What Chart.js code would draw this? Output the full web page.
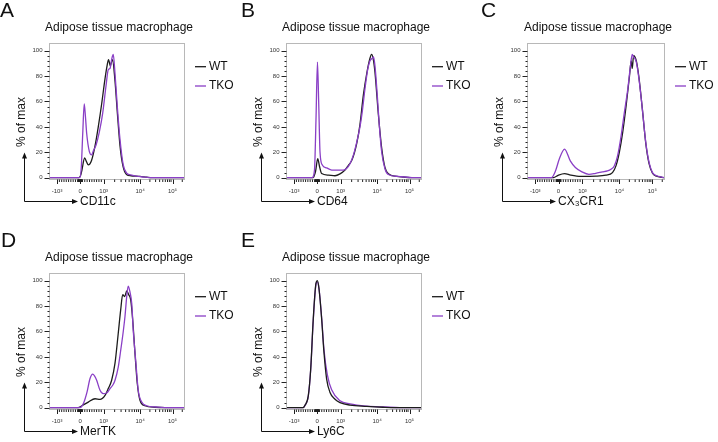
<!DOCTYPE html>
<html>
<head>
<meta charset="utf-8">
<script src="https://cdn.jsdelivr.net/npm/chart.js@4.4.1/dist/chart.umd.min.js"></script>
<style>
  body { margin: 0; background: #fff; }
  #figure { position: relative; width: 718px; height: 442px; overflow: hidden; }
  #figure canvas { position: absolute; }
</style>
</head>
<body>
<div id="figure">
  <canvas id="panelA" width="238" height="230" style="left:0;top:0"></canvas>
  <canvas id="panelB" width="238" height="230" style="left:237px;top:0"></canvas>
  <canvas id="panelC" width="240" height="230" style="left:478px;top:0"></canvas>
  <canvas id="panelD" width="238" height="212" style="left:0;top:230px"></canvas>
  <canvas id="panelE" width="238" height="212" style="left:237px;top:230px"></canvas>
</div>
<script>
const panelLetters = ["A", "B", "C", "D", "E"];
const panelTitle = "Adipose tissue macrophage";
const markers = ["CD11c", "CD64", "CX₃CR1", "MerTK", "Ly6C"];
const seriesNames = ["WT", "TKO"];
const seriesColors = ["#1c1c1c", "#8a3fc6"];
const yTitle = "% of max";
const yTickValues = [0, 20, 40, 60, 80, 100];
// channel positions of the biexponential decade marks
const xTickValues = [6, 23, 40.5, 67.5, 91.5];
const xTickLabels = ["-10³", "0", "10³", "10⁴", "10⁵"];

// [channel, % of max]
const cd11cWT = [[0,0],[22.2,0],[23.5,2],[24.4,6],[26.4,15.5],[27.8,12.5],[29.1,10],[31.5,13.5],[34.1,25],[36.5,40],[39,58],[41.5,78],[43,88],[44.1,93],[45.4,88],[47,93],[48.9,76],[50.7,50],[52.6,25],[54.8,9],[57.4,2.5],[60.7,1.5],[67.4,1],[72.6,0.3],[76.3,0],[100,0]];
const cd11cTKO = [[0,0],[22.9,0],[23.9,8],[25,35],[26.1,58],[27,48],[27.9,35],[29.9,20.5],[31.6,18],[32.8,21],[34.8,25.5],[37.3,36],[39.8,51],[42.2,72],[43.9,85],[45.2,86],[46.4,93],[47.6,97],[48.9,82],[50.6,56],[52.6,30],[55,10],[57.6,3.5],[61.3,2],[66.1,1],[69.6,0.5],[74.8,0],[100,0]];

const cd64WT = [[0,0],[20,0],[21.9,5],[23.5,15],[24.8,9],[26.4,3.2],[31.3,2],[36.3,1.5],[40,3],[43.7,6],[46.1,9.5],[48.9,14],[52.4,27],[54.8,42],[57.3,65],[59.8,82],[62.2,94],[63.4,97],[64.7,93],[65.9,83],[68.4,50],[70.9,23],[73.3,8],[75.8,3],[82,1],[86.7,0.5],[91.9,0],[100,0]];
const cd64TKO = [[0,0],[19.3,0],[21.1,6],[22.2,45],[23.3,91],[24.2,60],[25.2,20],[26.9,10],[30.1,7.7],[33.9,6],[38.7,6],[42.4,6],[45,7.4],[47.4,11],[49.9,17.7],[52.4,28],[54.8,40],[56.5,52],[58.5,70],[60.5,85],[62.2,92],[63.9,94],[64.8,95],[65.9,88],[67.6,65],[69.2,40],[70.9,20],[73.3,7],[75.8,2.5],[83.2,1],[88.1,0.5],[93.3,0],[100,0]];

const cx3cr1WT = [[0,0],[19.3,0],[23,2],[27.4,3.2],[31.9,2],[39.3,1],[50.4,1.2],[57.6,2],[62.4,4],[65,9.5],[67.4,20],[69.9,36],[72.4,57],[74.8,80],[76.1,92],[76.8,86],[77.8,96],[79.8,92],[81.7,79],[84.2,54],[86.7,27],[89.1,11],[91.6,3.5],[94.6,1.2],[98.5,0.3],[100,0]];
const cx3cr1TKO = [[0,0],[17.8,0],[20.7,5],[23.7,15],[27.4,22.5],[31.6,13.2],[35.3,8],[40.2,4.5],[45.2,2.6],[50.1,3.4],[55,4.5],[58.7,5.3],[61.3,6.6],[63.7,9.2],[66.1,17.2],[68.7,33],[71.1,51.6],[73.6,70],[75.3,86],[76.8,97],[77.8,95],[78.7,94],[79.8,91],[81.7,78],[84.2,54],[86.7,27.8],[89.1,12],[91.6,4],[94.6,1.5],[98.3,0.5],[100,0]];

const mertkWT = [[0,0],[21.5,0],[24.4,1.5],[29.1,4.4],[34.1,7],[37.8,6.5],[41.5,9.7],[43.9,15],[46.4,21.6],[48.9,35],[51.3,58.6],[53.1,77],[54.6,89],[56.1,87.5],[57.6,92],[59,89],[60.5,85],[62,69],[63.7,42.7],[65.4,19],[67.4,5.8],[71.1,1.5],[78.5,0.3],[85.9,0],[100,0]];
const mertkTKO = [[0,0],[23,0],[25.4,3],[28.1,12],[30.4,23],[32.4,26.4],[33.7,25],[35.3,21.6],[37.8,13.7],[40.2,11],[42.7,11.5],[45.2,15],[47.4,18],[48.9,21.6],[51.3,32],[53.1,45],[55,60],[56.3,72],[57.6,87.8],[58.7,95.7],[60,91],[61.3,82],[62.4,61],[64.4,35],[66.1,13.7],[68.7,4.4],[72.4,1.5],[79.3,0.5],[85.9,0],[100,0]];

const ly6cWT = [[0,0],[12.6,0],[14.1,2],[16.5,9.2],[18.3,30.5],[20.2,70],[22.2,98],[23.2,100],[24.4,94],[26.4,70],[28.1,43.8],[30.1,22.5],[32.6,12],[36.3,6.6],[40,4],[47.4,2],[59.8,1],[71.9,0.3],[80.7,0],[100,0]];
const ly6cTKO = [[0,0],[12.6,0],[14.1,1.8],[16.5,9],[18.3,30],[20.2,69],[22.2,97],[23.2,99],[24.4,94],[26.4,71],[28.1,46],[30.6,26],[33.8,14],[40,5.5],[47.4,3],[59.8,1.2],[73.3,0.5],[84.4,0],[100,0]];

const panelSeries = [
  [cd11cWT, cd11cTKO],
  [cd64WT, cd64TKO],
  [cx3cr1WT, cx3cr1TKO],
  [mertkWT, mertkTKO],
  [ly6cWT, ly6cTKO]
];
// which series sits on top in each panel
const topSeries = [1, 1, 1, 1, 0];

const FONT = "'Liberation Sans', Arial, sans-serif";

function minorChannels() {
  const [pNeg, p0, p3, p4, p5] = xTickValues;
  const out = [];
  for (let v = 10; v < 1000; v += v < 100 ? 10 : 100) {
    out.push(p0 + v / 1000 * (p3 - p0), p0 - v / 1000 * (p0 - pNeg));
  }
  for (let m = 2; m <= 9; m++) {
    const f = Math.log10(m);
    out.push(p3 + f * (p4 - p3), p4 + f * (p5 - p4), p5 + f * (p5 - p4), pNeg - f * (p4 - p3));
  }
  return out.filter(c => c > 0 && c < 100);
}
const xMinor = minorChannels();

const panelDecor = {
  id: "panelDecor",
  afterDraw(chart, args, opts) {
    const { ctx, chartArea: a, scales: { x, y } } = chart;
    const L = Math.round(a.left) + 0.5, R = Math.round(a.right) + 0.5;
    const T = Math.round(a.top) + 0.5, B = Math.round(a.bottom) + 0.5;
    ctx.save();

    ctx.strokeStyle = "#b8b8b8";
    ctx.lineWidth = 1;
    ctx.strokeRect(L, T, R - L, B - T);

    ctx.strokeStyle = "#222";
    ctx.beginPath();
    xTickValues.forEach(v => {
      const px = Math.round(x.getPixelForValue(v)) + 0.5;
      ctx.moveTo(px, B); ctx.lineTo(px, B + 4.5);
    });
    xMinor.forEach(v => {
      const px = x.getPixelForValue(v);
      ctx.moveTo(px, B); ctx.lineTo(px, B + 2.5);
    });
    for (let v = 0; v <= 100; v += 4) {
      const py = Math.round(y.getPixelForValue(v)) + 0.5;
      ctx.moveTo(L, py); ctx.lineTo(L - (v % 20 === 0 ? 5 : 2), py);
    }
    ctx.stroke();

    // title
    ctx.fillStyle = "#111";
    ctx.font = `12px ${FONT}`;
    ctx.textAlign = "center";
    ctx.textBaseline = "middle";
    ctx.fillText(panelTitle, chart.width / 2, a.top - 15.6);

    // legend
    ctx.textAlign = "left";
    chart.data.datasets.forEach((ds, i) => {
      const ly = a.top + 23.4 + i * 19.3;
      ctx.strokeStyle = ds.borderColor;
      ctx.lineWidth = 1.3;
      ctx.beginPath();
      ctx.moveTo(a.right + 11, ly); ctx.lineTo(a.right + 22, ly);
      ctx.stroke();
      ctx.fillText(ds.label, a.right + 25, ly);
    });

    // axis arrows and titles
    const ax = 24.5, ay = B + 22;
    ctx.strokeStyle = "#111";
    ctx.lineWidth = 1;
    ctx.beginPath();
    ctx.moveTo(ax, ay); ctx.lineTo(ax, B - 22);
    ctx.moveTo(ax, ay); ctx.lineTo(73, ay);
    ctx.stroke();
    ctx.beginPath();
    ctx.moveTo(ax, B - 27); ctx.lineTo(ax - 2.5, B - 21); ctx.lineTo(ax + 2.5, B - 21); ctx.closePath();
    ctx.moveTo(78, ay); ctx.lineTo(72, ay - 2.5); ctx.lineTo(72, ay + 2.5); ctx.closePath();
    ctx.fill();

    ctx.fillText(opts.xTitle, 80, ay);
    ctx.save();
    ctx.translate(22, B - 57.5);
    ctx.rotate(-Math.PI / 2);
    ctx.textAlign = "center";
    ctx.fillText(yTitle, 0, 0);
    ctx.restore();

    ctx.font = `21px ${FONT}`;
    ctx.textBaseline = "alphabetic";
    ctx.fillText(opts.letter, opts.letterX, 17);
    ctx.restore();
  }
};

const canvases = ["panelA", "panelB", "panelC", "panelD", "panelE"];
const letterX = [0, 4, 3, 1, 4];

canvases.forEach((id, p) => {
  const canvas = document.getElementById(id);
  const bottomSpace = canvas.height - 179.3;
  new Chart(canvas, {
    type: "line",
    data: {
      datasets: seriesNames.map((name, i) => ({
        label: name,
        data: panelSeries[p][i].map(([c, v]) => ({ x: c, y: v })),
        borderColor: seriesColors[i],
        borderWidth: 1.3,
        pointRadius: 0,
        cubicInterpolationMode: "monotone",
        order: i === topSeries[p] ? 1 : 2
      }))
    },
    options: {
      responsive: false,
      animation: false,
      events: [],
      layout: { padding: { top: 43.3, right: canvas.width - 184 - (p === 2 ? 2 : 0) } },
      scales: {
        x: {
          type: "linear",
          min: 0,
          max: 100,
          grid: { display: false, drawTicks: false, tickLength: 0 },
          border: { display: false },
          afterBuildTicks: s => { s.ticks = xTickValues.map(v => ({ value: v })); },
          afterFit: s => { s.height = bottomSpace; },
          ticks: {
            padding: 8,
            autoSkip: false,
            maxRotation: 0,
            color: "#333",
            font: { size: 6, family: FONT },
            callback: (v, i) => xTickLabels[i]
          }
        },
        y: {
          type: "linear",
          min: -1.3,
          max: 105.8,
          grid: { display: false, drawTicks: false, tickLength: 0 },
          border: { display: false },
          afterBuildTicks: s => { s.ticks = yTickValues.map(v => ({ value: v })); },
          afterFit: s => { s.width = 49; },
          ticks: {
            padding: 6.5,
            color: "#333",
            font: { size: 6, family: FONT },
            callback: v => String(v)
          }
        }
      },
      plugins: {
        legend: { display: false },
        tooltip: { enabled: false },
        title: { display: false },
        panelDecor: { letter: panelLetters[p], letterX: letterX[p], xTitle: markers[p] }
      }
    },
    plugins: [panelDecor]
  });
});
</script>
</body>
</html>
